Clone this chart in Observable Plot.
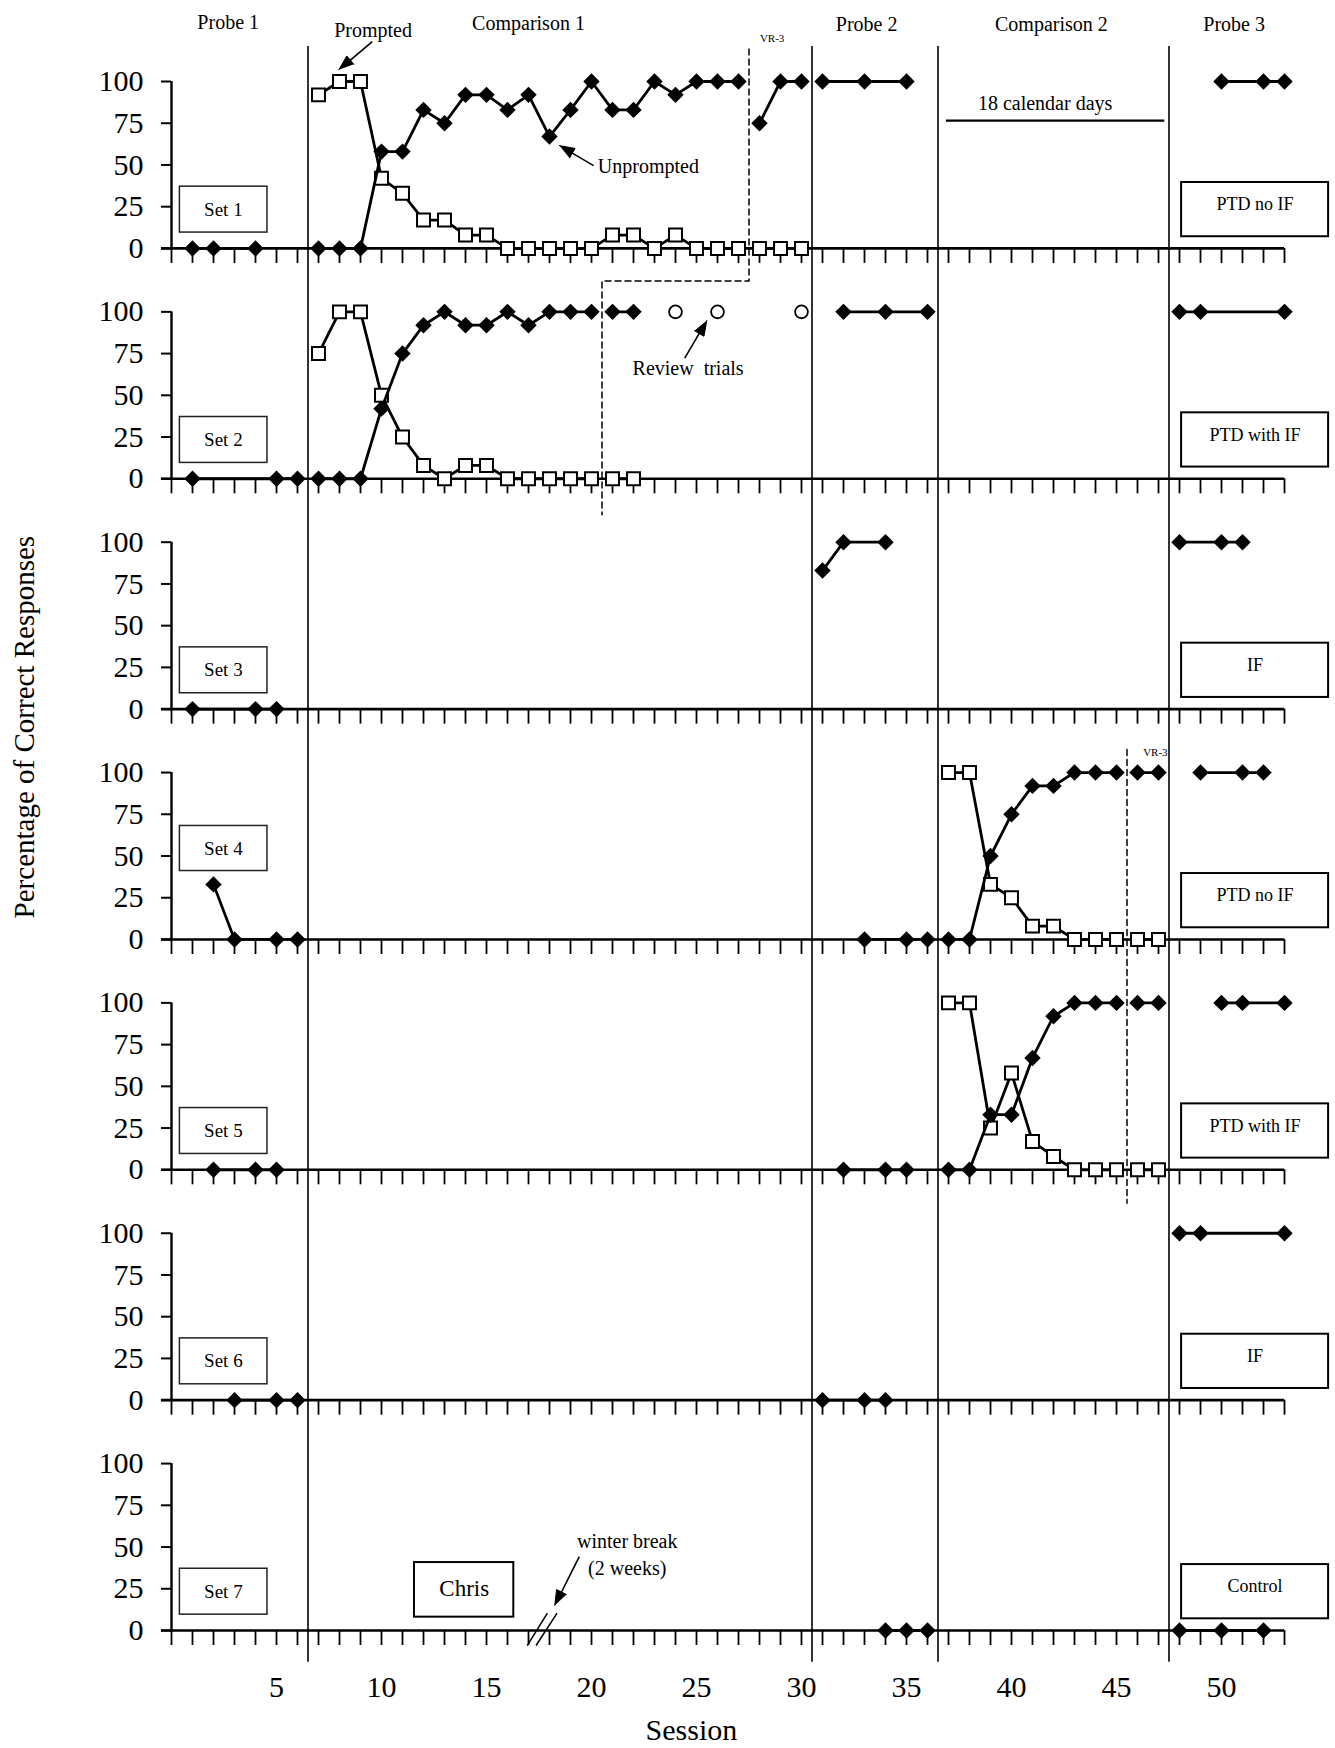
<!DOCTYPE html>
<html><head><meta charset="utf-8">
<script src="https://cdn.jsdelivr.net/npm/d3@7"></script>
<script src="https://cdn.jsdelivr.net/npm/@observablehq/plot@0.6"></script>
<style>html,body{margin:0;padding:0;background:#fff;} #chart svg{display:block}</style>
</head><body><div id="chart"></div>
<script>
// ---------------- data ----------------
const setNames = ["Set 1","Set 2","Set 3","Set 4","Set 5","Set 6","Set 7"];
const conditionNames = ["PTD no IF","PTD with IF","IF","PTD no IF","PTD with IF","IF","Control"];
const participant = "Chris";
const phaseNames = ["Probe 1","Comparison 1","Probe 2","Comparison 2","Probe 3"];
const phaseBoundaries = [6.5, 30.5, 36.5, 47.5];
const yTickValues = [0, 25, 50, 75, 100];
const xTickLabels = [5, 10, 15, 20, 25, 30, 35, 40, 45, 50];
const sessionTicks = d3.range(0, 54);

// unprompted (filled diamonds), segments of [session, percent]
const set1Unprompted = [
  [[1,0],[2,0],[4,0]],
  [[7,0],[8,0],[9,0],[10,58],[11,58],[12,83],[13,75],[14,92],[15,92],[16,83],[17,92],[18,67],[19,83],[20,100],[21,83],[22,83],[23,100],[24,92],[25,100],[26,100],[27,100]],
  [[28,75],[29,100],[30,100]],
  [[31,100],[33,100],[35,100]],
  [[50,100],[52,100],[53,100]]
];
const set2Unprompted = [
  [[1,0],[5,0],[6,0]],
  [[7,0],[8,0],[9,0],[10,42],[11,75],[12,92],[13,100],[14,92],[15,92],[16,100],[17,92],[18,100],[19,100],[20,100]],
  [[21,100],[22,100]],
  [[32,100],[34,100],[36,100]],
  [[48,100],[49,100],[53,100]]
];
const set3Unprompted = [
  [[1,0],[4,0],[5,0]],
  [[31,83],[32,100],[34,100]],
  [[48,100],[50,100],[51,100]]
];
const set4Unprompted = [
  [[2,33],[3,0],[5,0],[6,0]],
  [[33,0],[35,0],[36,0]],
  [[37,0],[38,0],[39,50],[40,75],[41,92],[42,92],[43,100],[44,100],[45,100]],
  [[46,100],[47,100]],
  [[49,100],[51,100],[52,100]]
];
const set5Unprompted = [
  [[2,0],[4,0],[5,0]],
  [[32,0],[34,0],[35,0]],
  [[37,0],[38,0],[39,33],[40,33],[41,67],[42,92],[43,100],[44,100],[45,100]],
  [[46,100],[47,100]],
  [[50,100],[51,100],[53,100]]
];
const set6Unprompted = [
  [[3,0],[5,0],[6,0]],
  [[31,0],[33,0],[34,0]],
  [[48,100],[49,100],[53,100]]
];
const set7Unprompted = [
  [[34,0],[35,0],[36,0]],
  [[48,0],[50,0],[52,0]]
];
// prompted (open squares)
const set1Prompted = [
  [[7,92],[8,100],[9,100],[10,42],[11,33],[12,17],[13,17],[14,8],[15,8],[16,0],[17,0],[18,0],[19,0],[20,0],[21,8],[22,8],[23,0],[24,8],[25,0],[26,0],[27,0]],
  [[28,0],[29,0],[30,0]]
];
const set2Prompted = [
  [[7,75],[8,100],[9,100],[10,50],[11,25],[12,8],[13,0],[14,8],[15,8],[16,0],[17,0],[18,0],[19,0],[20,0]],
  [[21,0],[22,0]]
];
const set4Prompted = [
  [[37,100],[38,100],[39,33],[40,25],[41,8],[42,8],[43,0],[44,0],[45,0]],
  [[46,0],[47,0]]
];
const set5Prompted = [
  [[37,100],[38,100],[39,25],[40,58],[41,17],[42,8],[43,0],[44,0],[45,0]],
  [[46,0],[47,0]]
];
// review trials (open circles), set 2
const set2Review = [[24,100],[26,100],[30,100]];

// ---------------- layout ----------------
const W = 1335, H = 1748, mL = 171, mR = 51, mT = 81, mB = 118;
const NP = setNames.length, GAP = 138, XMAX = 53;
const G = (p, v) => (NP - 1 - p) * GAP + v;       // panel p, percent v -> stacked y value
const kx = (W - mL - mR) / XMAX;
const ky = (H - mT - mB) / ((NP - 1) * GAP + 100);
const panels = d3.range(NP);
const FONT = "'Liberation Serif','Times New Roman',Times,serif";

function rowsOf(panel, series, segs) {
  return segs.flatMap((seg, i) => seg.map(([s, v]) => ({panel, seg: `${panel}-${series}-${i}`, x: s, y: G(panel, v)})));
}
const unpromptedAll = [set1Unprompted, set2Unprompted, set3Unprompted, set4Unprompted, set5Unprompted, set6Unprompted, set7Unprompted];
const promptedAll = [set1Prompted, set2Prompted, [], set4Prompted, set5Prompted, [], []];
const unRows = unpromptedAll.flatMap((s, p) => rowsOf(p, "u", s));
const prRows = promptedAll.flatMap((s, p) => rowsOf(p, "p", s));
const revRows = rowsOf(1, "r", [set2Review]);

const tickRows = panels.flatMap(p => sessionTicks.map(s => ({p, s})));
const yTickPositions = panels.flatMap(p => yTickValues.map(v => G(p, v)));

// boxes
const setBoxes = panels.map(p => ({p, t: setNames[p], x1: 0.4, x2: 4.57, lo: p === 3 ? 41 : 9.5, hi: p === 3 ? 68 : 37}));
const condBoxes = panels.map(p => ({p, t: conditionNames[p], x1: 48.1, x2: 55.1, lo: 7, hi: 39.5}));
const chrisBox = [{p: 6, t: participant, x1: 11.57, x2: 16.3, lo: 8, hi: 40.7}];

// annotations (text, panel, anchor in data units)
const phaseLabelPos = [[2.7,135],[17.0,134.5],[33.1,134],[41.9,134],[50.6,134]];
const phaseText = phaseNames.map((t, i) => ({t, x: phaseLabelPos[i][0], y: G(0, phaseLabelPos[i][1])}));
const notes = [
  {t: "Prompted", x: 9.6, y: G(0, 130.3), s: 20},
  {t: "18 calendar days", x: 41.6, y: G(0, 86.6), s: 20},
  {t: "Review\u00a0 trials", x: 24.6, y: G(1, 66.3), s: 20},
  {t: "winter break", x: 21.7, y: G(6, 53.5), s: 20},
  {t: "(2 weeks)", x: 21.7, y: G(6, 37), s: 20},
  {t: "VR-3", x: 28.6, y: G(0, 126), s: 11},
  {t: "VR-3", x: 46.85, y: G(3, 112.2), s: 11}
];

// arrows
const arrows = [
  {p: 0, x1: 9.56, y1: 123.9, x2: 7.97, y2: 107},
  {p: 0, x1: 20.1, y1: 49.6, x2: 18.47, y2: 61.6},
  {p: 1, x1: 24.44, y1: 72.3, x2: 25.49, y2: 94.8},
  {p: 6, x1: 19.42, y1: 44.3, x2: 18.25, y2: 15}
];
const shafts = [], heads = [];
arrows.forEach((a, i) => {
  const X1 = a.x1 * kx, Y1 = -G(a.p, a.y1) * ky, X2 = a.x2 * kx, Y2 = -G(a.p, a.y2) * ky;
  const len = Math.hypot(X2 - X1, Y2 - Y1), ux = (X2 - X1) / len, uy = (Y2 - Y1) / len;
  const L = 15, Wd = 5.5;
  const bx = X2 - ux * L, by = Y2 - uy * L;
  shafts.push({x1: X1 / kx, y1: -Y1 / ky, x2: (bx + ux * 3) / kx, y2: -(by + uy * 3) / ky});
  heads.push({id: i, x: X2 / kx, y: -Y2 / ky});
  heads.push({id: i, x: (bx - uy * Wd) / kx, y: -(by + ux * Wd) / ky});
  heads.push({id: i, x: (bx + uy * Wd) / kx, y: -(by - ux * Wd) / ky});
});

// dashed criterion lines
const vrPath1 = [{x: 27.5, y: G(0, 119.5)}, {x: 27.5, y: G(0, -19.5)}, {x: 20.5, y: G(0, -19.5)}, {x: 20.5, y: G(1, -21.6)}];
const vrPath2 = [{x: 45.5, y: G(3, 113.8)}, {x: 45.5, y: G(4, -20)}];
const breakMarks = [
  {x1: 16.94, y1: G(6, -9), x2: 17.9, y2: G(6, 10.4)},
  {x1: 17.36, y1: G(6, -9), x2: 18.36, y2: G(6, 10.4)}
];

const chart = Plot.plot({
  width: W, height: H,
  marginLeft: mL, marginRight: mR, marginTop: mT, marginBottom: mB,
  x: {domain: [0, XMAX]},
  y: {domain: [0, (NP - 1) * GAP + 100]},
  style: {fontFamily: FONT, background: "#fff", color: "#000", overflow: "visible"},
  marks: [
    Plot.ruleX(phaseBoundaries, {x: d => d, y1: G(6, -19), y2: G(0, 121), stroke: "#000", strokeWidth: 1.6}),
    Plot.line(vrPath1, {x: "x", y: "y", stroke: "#000", strokeWidth: 1.5, strokeDasharray: "6,4"}),
    Plot.line(vrPath2, {x: "x", y: "y", stroke: "#000", strokeWidth: 1.5, strokeDasharray: "6,4"}),
    Plot.ruleY([G(0, 76.6)], {y: d => d, x1: 36.9, x2: 47.3, stroke: "#000", strokeWidth: 2.2}),
    Plot.ruleY(panels, {y: p => G(p, 0), x1: -0.48, x2: XMAX, stroke: "#000", strokeWidth: 2.6}),
    Plot.ruleX(panels, {x: 0, y1: p => G(p, 0), y2: p => G(p, 100), stroke: "#000", strokeWidth: 2.4}),
    Plot.ruleX(tickRows, {x: "s", y1: d => G(d.p, 0), y2: d => G(d.p, -9), stroke: "#000", strokeWidth: 1.8}),
    Plot.axisY(yTickPositions, {tickSize: 10, tickPadding: 18, fontSize: 30, strokeWidth: 2, tickFormat: d => String(d % GAP), label: null}),
    Plot.axisX(xTickLabels, {tickSize: 0, tickPadding: 45, fontSize: 30, label: null}),
    Plot.link(breakMarks, {x1: "x1", y1: "y1", x2: "x2", y2: "y2", stroke: "#000", strokeWidth: 1.5}),
    Plot.rect(setBoxes, {x1: "x1", x2: "x2", y1: d => G(d.p, d.lo), y2: d => G(d.p, d.hi), fill: "#fff", stroke: "#222", strokeWidth: 1.5}),
    Plot.text(setBoxes, {x: 2.47, y: d => G(d.p, (d.lo + d.hi) / 2), text: "t", fontSize: 19}),
    Plot.rect(condBoxes, {x1: "x1", x2: "x2", y1: d => G(d.p, d.lo), y2: d => G(d.p, d.hi), fill: "#fff", stroke: "#000", strokeWidth: 2}),
    Plot.text(condBoxes, {x: 51.6, y: d => G(d.p, 26.3), text: "t", fontSize: 18}),
    Plot.rect(chrisBox, {x1: "x1", x2: "x2", y1: d => G(d.p, d.lo), y2: d => G(d.p, d.hi), fill: "#fff", stroke: "#000", strokeWidth: 2}),
    Plot.text(chrisBox, {x: 13.94, y: d => G(d.p, 25.3), text: "t", fontSize: 23}),
    Plot.line(prRows, {x: "x", y: "y", z: "seg", stroke: "#000", strokeWidth: 2.8}),
    Plot.dot(prRows, {x: "x", y: "y", symbol: "square", r: 7.3, fill: "#fff", stroke: "#000", strokeWidth: 2}),
    Plot.line(unRows, {x: "x", y: "y", z: "seg", stroke: "#000", strokeWidth: 2.8}),
    Plot.dot(unRows, {x: "x", y: "y", symbol: "diamond2", r: 7.4, fill: "#000"}),
    Plot.dot(revRows, {x: "x", y: "y", symbol: "circle", r: 6.4, fill: "#fff", stroke: "#000", strokeWidth: 1.8}),
    Plot.link(shafts, {x1: "x1", y1: "y1", x2: "x2", y2: "y2", stroke: "#000", strokeWidth: 1.6}),
    Plot.line(heads, {x: "x", y: "y", z: "id", fill: "#000", stroke: "#000", strokeWidth: 1}),
    Plot.text(phaseText, {x: "x", y: "y", text: "t", fontSize: 20}),
    Plot.text(notes, {x: "x", y: "y", text: "t", fontSize: d => d.s}),
    Plot.text(["Unprompted"], {x: 20.3, y: G(0, 48.8), text: d => d, fontSize: 20, textAnchor: "start"}),
    Plot.text(["Percentage of Correct Responses"], {x: -7, y: G(2, -10.8), text: d => d, fontSize: 29, rotate: -90}),
    Plot.text(["Session"], {x: 24.76, y: G(6, -59.6), text: d => d, fontSize: 30})
  ]
});
document.getElementById("chart").appendChild(chart);
</script>
</body></html>
